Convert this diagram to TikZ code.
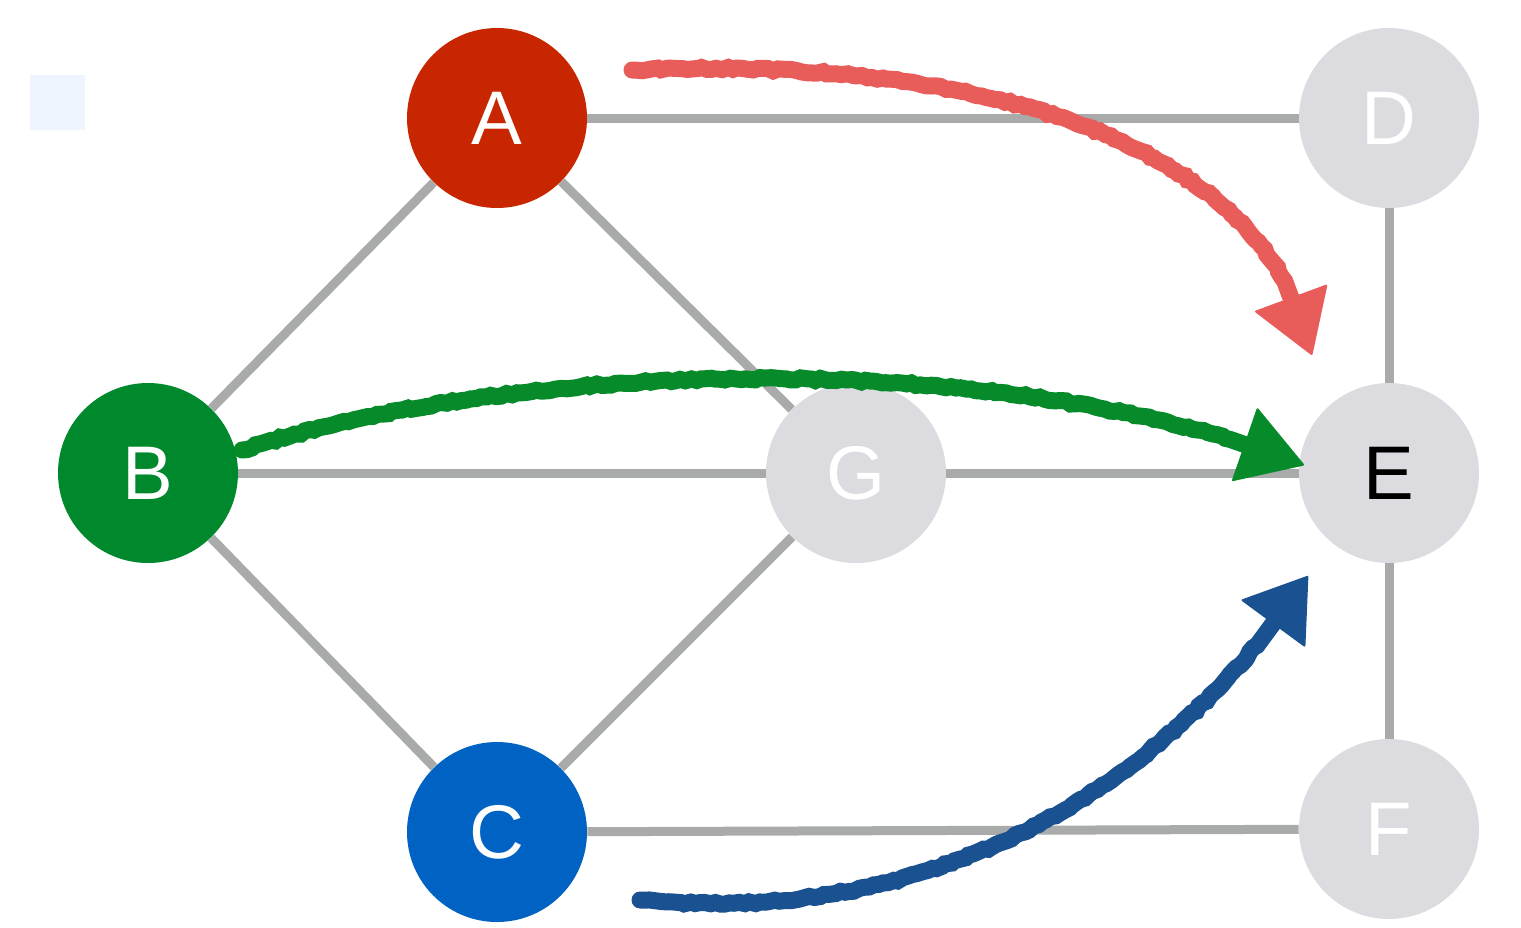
\documentclass[tikz,border=0pt]{standalone}
\usepackage{fontspec}
\setmainfont{Liberation Sans}
\usetikzlibrary{arrows.meta,backgrounds,decorations.pathmorphing}
\definecolor{nodered}{HTML}{C82600}
\definecolor{nodegreen}{HTML}{00892C}
\definecolor{nodeblue}{HTML}{0062C2}
\definecolor{nodegray}{HTML}{DCDCE0}
\definecolor{edgegray}{HTML}{A9AAAA}
\definecolor{arrred}{HTML}{E85C5A}
\definecolor{arrgreen}{HTML}{068A2A}
\definecolor{arrblue}{HTML}{1A5190}
\definecolor{sq}{HTML}{EEF5FF}
\tikzset{
  vert/.style={circle,minimum size=90pt,inner sep=0pt,font=\fontsize{38}{40}\selectfont,text=white},
  edge/.style={draw=edgegray,line width=4.5pt},
  sketch/.style={line width=8.5pt,line cap=round,decorate,decoration={random steps,segment length=2.5pt,amplitude=0.6pt,post length=40pt}},
}
\begin{document}
\begin{tikzpicture}[x=0.5pt,y=-0.5pt]
\useasboundingbox (0,0) rectangle (1521,927);
\fill[sq] (30,75) rectangle (85,130);
\node[vert,fill=nodered] (A) at (497,118) {A};
\node[vert,fill=nodegreen] (B) at (148,473) {B};
\node[vert,fill=nodeblue] (C) at (497,832) {C};
\node[vert,fill=nodegray] (D) at (1389,118) {D};
\node[vert,fill=nodegray,text=black] (E) at (1389,473) {E};
\node[vert,fill=nodegray] (F) at (1389,829) {F};
\node[vert,fill=nodegray] (G) at (856,473) {G};
\begin{scope}[on background layer]
\draw[edge] (A) -- (D);
\draw[edge] (A) -- (B);
\draw[edge] (A) -- (G);
\draw[edge] (B) -- (G);
\draw[edge] (B) -- (C);
\draw[edge] (C) -- (G);
\draw[edge] (C) -- (F);
\draw[edge] (D) -- (E);
\draw[edge] (G) -- (E);
\draw[edge] (E) -- (F);
\end{scope}
\coordinate (r0) at (632,70);
\coordinate (r1) at (1312,355);
\coordinate (g0) at (242,450);
\coordinate (g1) at (1304,465);
\coordinate (b0) at (640,900);
\coordinate (b1) at (1308,576);
\draw[sketch,draw=arrred,-{Triangle[length=31pt,width=39pt,line width=1pt,round,fill=arrred]}] (r0) .. controls (1000,55) and (1270,150) .. (r1);
\draw[sketch,draw=arrgreen,-{Triangle[length=32pt,width=39pt,line width=1pt,round,fill=arrgreen]}] (g0) .. controls (520,360) and (1000,345) .. (g1);
\draw[sketch,draw=arrblue,-{Triangle[length=30pt,width=40pt,line width=1pt,round,fill=arrblue]}] (b0) .. controls (950,930) and (1180,770) .. (b1);
\end{tikzpicture}
\end{document}
